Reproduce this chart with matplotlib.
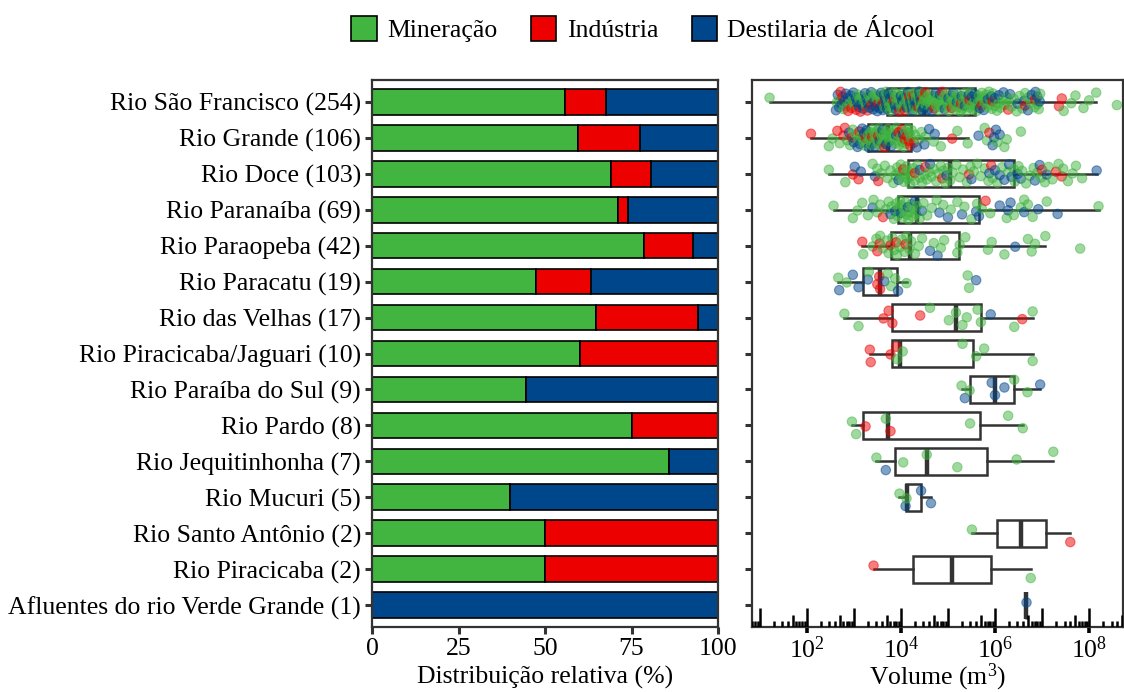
import numpy as np
import matplotlib
matplotlib.use("Agg")
import matplotlib.pyplot as plt
from matplotlib.cbook import boxplot_stats
from matplotlib.patches import Patch
from matplotlib.ticker import FixedLocator, LogFormatterSciNotation, NullLocator

plt.rcParams["font.family"] = ["Liberation Serif", "DejaVu Serif"]
plt.rcParams["mathtext.fontset"] = "custom"
plt.rcParams["mathtext.rm"] = "Liberation Serif"
plt.rcParams["mathtext.it"] = "Liberation Serif:italic"

# basins, top to bottom
rivers = [
    "Rio São Francisco", "Rio Grande", "Rio Doce", "Rio Paranaíba", "Rio Paraopeba",
    "Rio Paracatu", "Rio das Velhas", "Rio Piracicaba/Jaguari", "Rio Paraíba do Sul",
    "Rio Pardo", "Rio Jequitinhonha", "Rio Mucuri", "Rio Santo Antônio",
    "Rio Piracicaba", "Afluentes do rio Verde Grande",
]

# number of dams per activity
n_mineracao = [142, 63, 71, 49, 33, 9, 11, 6, 4, 6, 6, 2, 1, 1, 0]
n_industria = [30, 19, 12, 2, 6, 3, 5, 4, 0, 2, 0, 0, 1, 1, 0]
n_destilaria = [82, 24, 20, 18, 3, 7, 1, 0, 5, 0, 1, 3, 0, 0, 1]

# log10 of stored volume (m3), one list per basin
vol_mineracao = [
    [1.21, 2.64, 2.70, 2.78, 2.85, 2.91, 2.97, 3.02, 3.08, 3.12, 3.17, 3.22, 3.26, 3.31,
     3.35, 3.40, 3.44, 3.49, 3.53, 3.57, 3.61, 3.65, 3.68,
     3.70, 3.73, 3.75, 3.78, 3.80, 3.83, 3.86, 3.88, 3.91, 3.93, 3.96, 3.99, 4.01, 4.04,
     4.06, 4.09, 4.11, 4.14, 4.16, 4.19, 4.21, 4.24, 4.26, 4.28, 4.30, 4.32, 4.34, 4.36,
     4.38, 4.40, 4.42, 4.44, 4.45, 4.47,
     4.48, 4.50, 4.53, 4.55, 4.58, 4.60, 4.63, 4.65, 4.68, 4.70, 4.72, 4.75, 4.77, 4.80,
     4.82, 4.85, 4.87, 4.90, 4.92, 4.95, 4.97, 5.00, 5.02, 5.05, 5.07, 5.10, 5.12, 5.15,
     5.17, 5.20, 5.22, 5.25, 5.27, 5.30, 5.32, 5.35, 5.38, 5.40, 5.43, 5.45, 5.48, 5.50,
     5.53, 5.56,
     5.59, 5.61, 5.63, 5.66, 5.69, 5.72, 5.75, 5.78, 5.81, 5.84, 5.87, 5.90, 5.93, 5.96,
     6.00, 6.04, 6.08, 6.12, 6.16, 6.20, 6.25, 6.30, 6.35, 6.40, 6.46, 6.52, 6.58, 6.64,
     6.70, 6.77, 6.84, 6.90, 6.93, 6.96, 7.46, 7.62, 7.71, 7.88, 8.00, 8.15, 8.59],
    [2.47, 2.55, 2.70, 2.86, 2.92, 2.98, 3.04, 3.10, 3.15, 3.20, 3.24, 3.28,
     3.30, 3.33, 3.35, 3.37, 3.40, 3.42, 3.44, 3.47, 3.49, 3.51, 3.54, 3.56, 3.58, 3.60,
     3.62, 3.64, 3.66, 3.68, 3.71,
     3.73, 3.76, 3.79, 3.82, 3.85, 3.88, 3.91, 3.94, 3.97, 4.00, 4.03, 4.06, 4.09, 4.12,
     4.15, 4.18, 4.21,
     4.23, 4.30, 4.38, 4.44, 4.52, 4.70, 4.85, 5.20, 5.42, 5.78, 5.83, 6.05, 6.20, 6.25, 6.55],
    [2.47, 2.82, 3.40, 3.50, 3.58, 3.66, 3.72, 3.78, 3.84, 3.88, 3.92, 3.96, 4.00, 4.03,
     4.06, 4.09, 4.12, 4.14,
     4.16, 4.19, 4.22, 4.26, 4.30, 4.35, 4.40, 4.45, 4.50, 4.55, 4.60, 4.65, 4.70, 4.75,
     4.80, 4.85, 4.90, 4.95, 5.00, 5.05,
     5.10, 5.18, 5.25, 5.32, 5.40, 5.48, 5.55, 5.62, 5.70, 5.78, 5.86, 5.95, 6.05, 6.15,
     6.28, 6.40,
     6.42, 6.50, 6.58, 6.66, 6.74, 6.82, 6.90, 6.98, 7.06, 7.14, 7.22, 7.35, 7.45, 7.55,
     7.65, 7.72, 7.85],
    [2.57, 2.98, 3.08, 3.18, 3.30, 3.42, 3.50, 3.56, 3.68, 3.74, 3.80, 3.85, 3.90, 3.93,
     3.95, 3.98, 4.01, 4.04, 4.07, 4.10, 4.13, 4.16, 4.19, 4.22, 4.25, 4.28, 4.32, 4.34,
     4.40, 4.48, 4.56, 4.66, 4.76, 4.90, 5.06, 5.20, 5.35, 5.50, 5.62,
     5.72, 5.90, 6.25, 6.40, 6.55, 6.62, 6.70, 6.80, 7.10, 8.20],
    [3.20, 3.40, 3.48, 3.56, 3.62, 3.70, 3.74, 3.82, 3.86, 3.92, 3.98, 4.02, 4.08, 4.12,
     4.18, 4.22, 4.30, 4.38, 4.45, 4.70, 4.85, 4.92, 5.20, 5.25, 5.37, 5.85, 5.93, 6.20,
     6.70, 6.78, 6.85, 7.07, 7.81],
    [2.67, 2.85, 3.32, 3.72, 3.79, 3.88, 4.12, 5.42, 5.45],
    [2.80, 3.10, 4.62, 5.02, 5.17, 5.31, 5.40, 5.63, 5.70, 6.41, 6.80],
    [3.92, 4.04, 5.31, 5.60, 5.77, 6.80],
    [5.29, 5.46, 6.41, 6.69],
    [2.96, 3.05, 3.68, 5.47, 6.28, 6.59],
    [3.48, 4.05, 4.55, 5.20, 6.46, 7.24],
    [3.97, 4.12],
    [5.51],
    [6.76],
    [],
]
vol_industria = [
    [2.72, 2.76, 2.88, 2.95, 3.05, 3.14, 3.29, 3.38, 3.52, 3.63, 3.85, 3.97, 4.08, 4.18,
     4.27, 4.37, 4.46, 4.52, 4.71, 4.88, 5.08, 5.28, 5.46, 5.72, 5.95, 6.28, 6.64, 6.85,
     7.36, 7.42],
    [2.09, 2.65, 2.78, 2.81, 2.96, 3.12, 3.26, 3.39, 3.52, 3.65, 3.95, 4.02, 4.08, 4.13,
     4.17, 4.20, 4.28, 5.09, 5.88],
    [2.98, 3.10, 3.52, 4.05, 4.30, 4.52, 4.88, 5.45, 5.92, 7.00, 7.30, 7.42],
    [3.62, 5.80],
    [3.18, 3.50, 3.55, 3.78, 3.90, 4.10],
    [3.50, 3.54, 3.56],
    [3.63, 3.74, 3.82, 4.41, 6.58],
    [3.34, 3.36, 3.78, 3.90],
    [],
    [3.25, 3.78],
    [],
    [],
    [7.60],
    [3.42],
    [],
]
vol_destilaria = [
    [2.62, 2.66, 2.69, 2.74, 2.80, 2.83, 2.87, 2.93, 2.99, 3.04, 3.07, 3.11, 3.16, 3.20,
     3.24, 3.27, 3.30, 3.33, 3.37, 3.41, 3.43, 3.47, 3.50, 3.55, 3.58, 3.60, 3.62, 3.64,
     3.67, 3.69,
     3.71, 3.74, 3.77, 3.82, 3.87, 3.90, 3.95, 4.00, 4.03, 4.07, 4.12, 4.15, 4.20, 4.23,
     4.25, 4.29, 4.31, 4.35, 4.39, 4.41, 4.43, 4.46,
     4.49, 4.57, 4.66, 4.74, 4.83, 4.93, 5.01, 5.11, 5.19, 5.29, 5.36, 5.44, 5.51, 5.57,
     5.60, 5.68, 5.76, 5.85, 5.92, 6.00, 6.08, 6.18, 6.32, 6.48, 6.62, 6.70, 6.78, 6.86,
     6.90, 6.95],
    [2.90, 3.00, 3.08, 3.13, 3.18, 3.22, 3.27, 3.32, 3.45, 3.55, 3.61, 3.69, 3.80, 3.90,
     4.05, 4.34, 4.50, 4.60, 4.72, 5.65, 5.95, 5.98, 6.02, 6.10],
    [3.02, 3.15, 3.45, 3.95, 4.40, 4.62, 4.97, 5.50, 5.88, 6.00, 6.10, 6.20, 6.30, 6.35,
     6.48, 6.55, 6.85, 6.95, 7.10, 8.16],
    [3.40, 3.78, 3.88, 4.00, 4.15, 4.30, 4.45, 4.82, 5.00, 5.30, 5.60, 5.66, 6.10, 6.28,
     6.33, 6.62, 6.92, 7.33],
    [4.62, 4.78, 6.43],
    [2.69, 2.98, 3.10, 3.30, 3.65, 3.94, 5.60],
    [5.91],
    [],
    [5.36, 5.93, 6.00, 6.20, 6.96],
    [],
    [3.68],
    [4.10, 4.43, 4.64],
    [],
    [],
    [6.66],
]

activities = ["Mineração", "Indústria", "Destilaria de Álcool"]
colors = ["#42B540", "#ED0000", "#00468B"]
counts = [n_mineracao, n_industria, n_destilaria]
volumes = [vol_mineracao, vol_industria, vol_destilaria]

for cnt, vols in zip(counts, volumes):
    assert [len(v) for v in vols] == cnt

totals = np.sum(counts, axis=0)
ylabels = [f"{r} ({t})" for r, t in zip(rivers, totals)]
ypos = np.arange(len(rivers))
dark = "#333333"
fs = 18.5

fig = plt.figure(figsize=(11.24, 6.92), dpi=100)
W, H = 1124, 692
ax1 = fig.add_axes([372 / W, 1 - 627 / H, (718 - 372) / W, (627 - 80) / H])
ax2 = fig.add_axes([752 / W, 1 - 627 / H, (1123 - 752) / W, (627 - 80) / H])

# stacked relative distribution
left = np.zeros(len(rivers))
for cnt, color in zip(counts, colors):
    pct = 100 * np.array(cnt) / totals
    ax1.barh(ypos, pct, left=left, height=0.72, color=color,
             edgecolor="black", linewidth=1.2)
    left += pct
ax1.set_xlim(0, 100)
ax1.set_ylim(len(rivers) - 0.4, -0.6)
ax1.set_xticks([0, 25, 50, 75, 100])
ax1.set_yticks(ypos)
ax1.set_yticklabels(ylabels)
ax1.set_xlabel("Distribuição relativa (%)", fontsize=fs, labelpad=4)

# volume boxplots with jittered points
stats = []
for i in range(len(rivers)):
    vals = np.concatenate([np.array(v[i], dtype=float) for v in volumes])
    st = boxplot_stats(vals, whis=1.5)[0]
    for key in ("mean", "med", "q1", "q3", "whislo", "whishi", "cilo", "cihi"):
        st[key] = 10 ** st[key]
    st["fliers"] = []
    stats.append(st)

ax2.set_xscale("log")
ax2.bxp(stats, positions=ypos, widths=0.76, orientation="horizontal",
        showfliers=False, showcaps=False, patch_artist=True,
        boxprops=dict(facecolor="white", edgecolor=dark, linewidth=1.8),
        medianprops=dict(color=dark, linewidth=3.2, solid_capstyle="butt"),
        whiskerprops=dict(color=dark, linewidth=1.8),
        manage_ticks=False, zorder=2)

for i in range(len(rivers)):
    vals, cols = [], []
    for v, c in zip(volumes, colors):
        vals += v[i]
        cols += [c] * len(v[i])
    order = np.argsort(vals, kind="stable")
    vals = np.array(vals)[order]
    cols = np.array(cols)[order]
    k = np.arange(len(vals))
    jitter = ((k * 0.618034 + 0.31) % 1.0 - 0.5) * 0.56
    ax2.scatter(10 ** vals, i + jitter, s=46, c=list(cols), alpha=0.5,
                edgecolors=list(cols), linewidths=0.8, zorder=3)

ax2.set_xlim(10 ** 0.837, 10 ** 8.72)
ax2.set_ylim(len(rivers) - 0.4, -0.6)
ax2.set_yticks(ypos)
ax2.set_yticklabels([])
ax2.xaxis.set_major_locator(FixedLocator([1e2, 1e4, 1e6, 1e8]))
ax2.xaxis.set_major_formatter(LogFormatterSciNotation())
ax2.xaxis.set_minor_locator(NullLocator())
ax2.set_xlabel("Volume (m$^3$)", fontsize=fs, labelpad=-1)

# log ticks along the bottom edge
xmin, xmax = ax2.get_xlim()
tx, th = [], []
for e in range(0, 9):
    for m in range(1, 10):
        x = m * 10.0 ** e
        if xmin <= x <= xmax:
            tx.append(x)
            th.append(0.034 if m == 1 else (0.022 if m == 5 else 0.011))
ax2.vlines(tx, 0, th, transform=ax2.get_xaxis_transform(), color="black",
           linewidth=1.8, zorder=4)

for ax in (ax1, ax2):
    for sp in ax.spines.values():
        sp.set_color(dark)
        sp.set_linewidth(1.6)
    ax.tick_params(axis="both", direction="out", length=5, width=2.2,
                   color=dark, labelsize=fs, pad=3)
ax2.tick_params(axis="x", length=4, width=2.6, color="black")

handles = [Patch(facecolor=c, edgecolor="black", linewidth=1.2) for c in colors]
fig.legend(handles, activities, loc="center", bbox_to_anchor=(0.572, 0.958),
           ncol=3, frameon=False, fontsize=fs, handlelength=1.0, handleheight=1.1,
           handletextpad=0.4, columnspacing=1.3)

fig.savefig("out.png", dpi=100)
